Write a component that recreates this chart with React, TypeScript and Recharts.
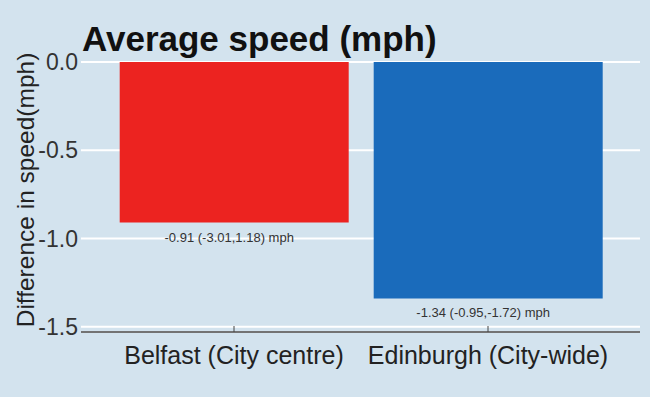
import { BarChart, Bar, XAxis, YAxis, CartesianGrid, LabelList, Cell } from "recharts";

const categories = ["Belfast (City centre)", "Edinburgh (City-wide)"];
const speedDiff = [-0.91, -1.34];
const ciLabels = ["-0.91 (-3.01,1.18) mph", "-1.34 (-0.95,-1.72) mph"];
const yTicks = [0, -0.5, -1, -1.5];
const barColors = ["#ec2320", "#1a6bbb"];

const data = categories.map((city, i) => ({
  city,
  value: speedDiff[i],
  ci: ciLabels[i],
}));

const FONT = "'Liberation Sans', Arial, sans-serif";

const CiLabel = (props: any) => {
  const { x, y, width, height, index } = props;
  const bottom = Math.max(y, y + height);
  return (
    <text
      x={x + width / 2 - 5}
      y={bottom + 19}
      textAnchor="middle"
      fontSize={13}
      fill="#333"
      fontFamily={FONT}
    >
      {ciLabels[index]}
    </text>
  );
};

const YLabel = (props: any) => {
  const { viewBox } = props;
  const cx = viewBox.x + 13;
  const cy = viewBox.y + viewBox.height / 2 - 7;
  return (
    <text
      x={cx}
      y={cy}
      transform={`rotate(-90, ${cx}, ${cy})`}
      textAnchor="middle"
      fontSize={24.5}
      fill="#222"
      fontFamily={FONT}
    >
      Difference in speed(mph)
    </text>
  );
};

export default function App() {
  return (
    <div
      style={{
        position: "absolute",
        left: 0,
        top: 0,
        width: 650,
        height: 397,
        background: "#d3e3ee",
        fontFamily: FONT,
      }}
    >
      <div
        style={{
          position: "absolute",
          left: 82,
          top: 21,
          fontSize: 35,
          lineHeight: "35px",
          fontWeight: 700,
          color: "#111",
        }}
      >
        Average speed (mph)
      </div>
      <BarChart
        width={650}
        height={397}
        data={data}
        margin={{ top: 62, right: 10, bottom: 25, left: 21 }}
        barCategoryGap="5%"
      >
        <CartesianGrid vertical={false} stroke="#ffffff" strokeWidth={2} />
        <XAxis
          dataKey="city"
          padding={{ left: 26, right: 25 }}
          height={40}
          tickSize={-6}
          tickMargin={20}
          axisLine={{ stroke: "#444", strokeWidth: 1.5 }}
          tickLine={{ stroke: "#444" }}
          tick={{ fill: "#222", fontSize: 25, fontFamily: FONT }}
          interval={0}
        />
        <YAxis
          domain={[-1.53, 0]}
          ticks={yTicks}
          width={60}
          axisLine={false}
          tickLine={false}
          tickSize={0}
          tickMargin={3}
          tickFormatter={(v: number) => v.toFixed(1)}
          tick={{ fill: "#333", fontSize: 23, fontFamily: FONT }}
          label={<YLabel />}
        />
        <Bar dataKey="value" isAnimationActive={false}>
          {data.map((d, i) => (
            <Cell key={d.city} fill={barColors[i]} />
          ))}
          <LabelList dataKey="ci" content={<CiLabel />} />
        </Bar>
      </BarChart>
    </div>
  );
}
